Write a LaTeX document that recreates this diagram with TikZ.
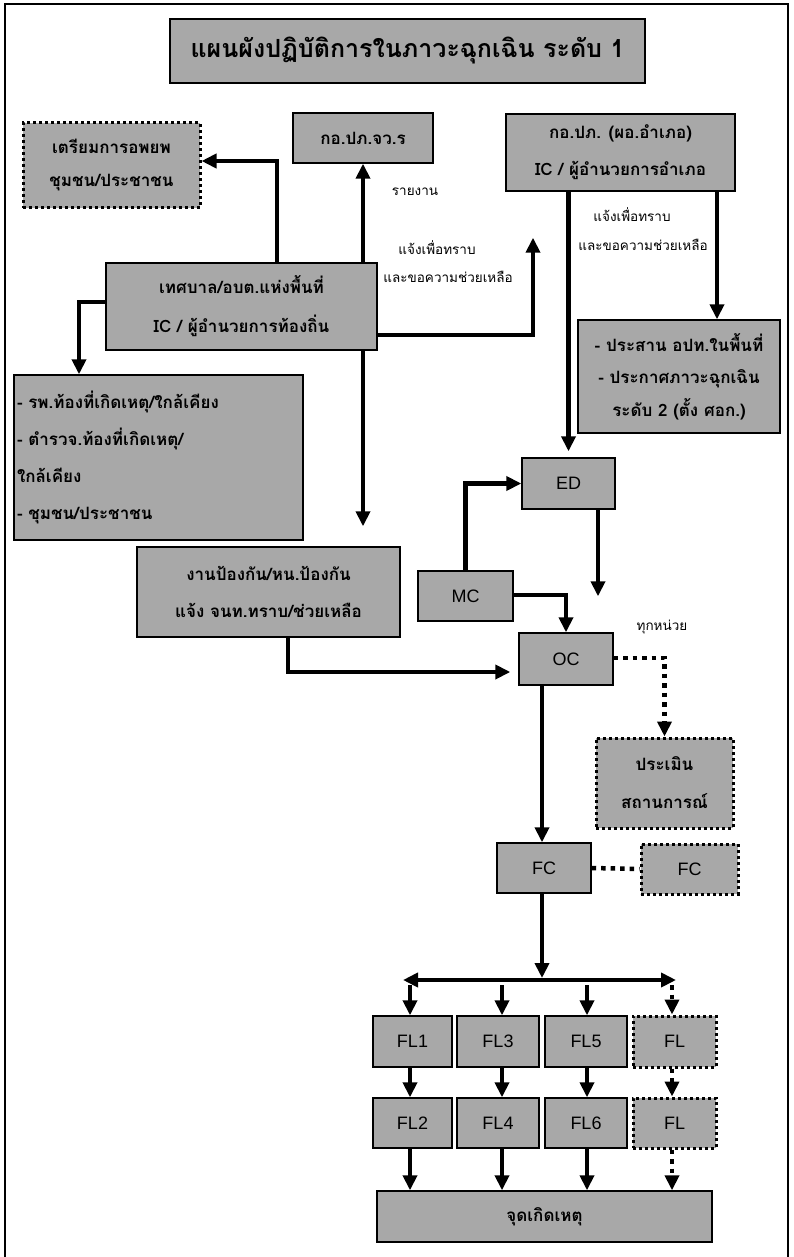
\documentclass[tikz,border=0pt]{standalone}
\usepackage{fontspec}
\setmainfont{Liberation Sans}
\newfontfamily\thai[Script=Thai]{Loma}
\usetikzlibrary{arrows.meta}
\definecolor{boxgray}{RGB}{168,168,168}
\tikzset{
  box/.style={draw=black, line width=1.4pt, fill=boxgray, inner sep=0pt, align=center},
  dotbox/.style={box, line width=3pt, dash pattern=on 3pt off 3pt},
  thtext/.style={font=\thai\bfseries\fontsize{17}{37}\selectfont},
  latin/.style={font=\fontsize{18}{20}\selectfont},
  arr/.style={line width=4.5pt, -{Triangle[width=14pt,length=15pt]}},
  dotarr/.style={line width=4.5pt, dash pattern=on 4.5pt off 5pt, -{Triangle[width=14pt,length=15pt]}},
  dotconn/.style={line width=4.5pt, dash pattern=on 4.5pt off 5pt},
  lbl/.style={font=\thai\fontsize{13.5}{15}\selectfont, inner sep=0pt},
}
\begin{document}
\begin{tikzpicture}[x=1pt,y=-1pt]
\useasboundingbox (0,0) rectangle (794,1257);
\draw[line width=1.5pt] (5,1257) -- (5,4) -- (788,4) -- (788,1257);

% nodes
\node[box, minimum width=475, minimum height=64, font=\thai\bfseries\fontsize{25}{28}\selectfont] (title) at (407.5,51) {แผนผังปฏิบัติการในภาวะฉุกเฉิน ระดับ 1};
\node[dotbox, minimum width=177, minimum height=85, thtext, font=\thai\bfseries\fontsize{17}{33}\selectfont] (evac) at (111.5,165.5) {เตรียมการอพยพ\\ชุมชน/ประชาชน};
\node[box, minimum width=140, minimum height=50, thtext] (prov) at (363,138) {กอ.ปภ.จว.ร};
\node[box, minimum width=229, minimum height=77, thtext] (dist) at (620.5,152.5) {กอ.ปภ. (ผอ.อำเภอ)\\IC / ผู้อำนวยการอำเภอ};
\node[box, minimum width=271, minimum height=87, thtext, font=\thai\bfseries\fontsize{17}{39}\selectfont] (local) at (241.5,306.5) {เทศบาล/อบต.แห่งพื้นที่\\IC / ผู้อำนวยการท้องถิ่น};
\node[box, minimum width=202, minimum height=113, thtext, font=\thai\bfseries\fontsize{17}{32.5}\selectfont] (coord) at (679,376.5) {- ประสาน อปท.ในพื้นที่\\- ประกาศภาวะฉุกเฉิน\\ระดับ 2 (ตั้ง ศอก.)};
\node[box, minimum width=289, minimum height=165, text width=283, align=left, thtext] (left) at (158.5,457.5) {- รพ.ท้องที่เกิดเหตุ/ใกล้เคียง\\- ตำรวจ.ท้องที่เกิดเหตุ/\\ใกล้เคียง\\- ชุมชน/ประชาชน};
\node[box, minimum width=263, minimum height=90, thtext] (prev) at (268.5,592) {งานป้องกัน/หน.ป้องกัน\\แจ้ง จนท.ทราบ/ช่วยเหลือ};
\node[box, minimum width=93, minimum height=51, latin] (ED) at (568.5,483.5) {ED};
\node[box, minimum width=95, minimum height=50, latin] (MC) at (465.5,596) {MC};
\node[box, minimum width=94, minimum height=52, latin] (OC) at (566,659) {OC};
\node[dotbox, minimum width=137, minimum height=90, thtext, font=\thai\bfseries\fontsize{17}{38}\selectfont] (assess) at (664.5,783) {ประเมิน\\สถานการณ์};
\node[box, minimum width=94, minimum height=50, latin] (FC) at (544,868) {FC};
\node[dotbox, minimum width=97, minimum height=50, latin] (FC2) at (689.5,869) {FC};
\node[box, minimum width=79, minimum height=51, latin] (FL1) at (412.5,1041.5) {FL1};
\node[box, minimum width=82, minimum height=51, latin] (FL3) at (498,1041.5) {FL3};
\node[box, minimum width=82, minimum height=51, latin] (FL5) at (586,1041.5) {FL5};
\node[dotbox, minimum width=83, minimum height=51, latin] (FLa) at (674.5,1041.5) {FL};
\node[box, minimum width=79, minimum height=50, latin] (FL2) at (412.5,1123) {FL2};
\node[box, minimum width=82, minimum height=50, latin] (FL4) at (498,1123) {FL4};
\node[box, minimum width=82, minimum height=50, latin] (FL6) at (586,1123) {FL6};
\node[dotbox, minimum width=83, minimum height=50, latin] (FLb) at (674.5,1123) {FL};
\node[box, minimum width=335, minimum height=51, thtext] (scene) at (544.5,1216.5) {จุดเกิดเหตุ};

% labels
\node[lbl] (l1) at (415,192) {รายงาน};
\node[lbl] (l2) at (437,248) {แจ้งเพื่อทราบ};
\node[lbl] (l3) at (448,277) {และขอความช่วยเหลือ};
\node[lbl] (l4) at (632,215) {แจ้งเพื่อทราบ};
\node[lbl] (l5) at (643,245) {และขอความช่วยเหลือ};
\node[lbl] (l6) at (662,627) {ทุกหน่วย};

% connectors
\coordinate (c1) at (277,161);
\draw[arr] (c1 |- local.north) -- (c1) -- (c1 -| evac.east);
\draw[arr] (local.north -| prov.south) -- (prov.south);
\draw[arr, shorten >=20pt] (local.south -| prov.south) -- (prev.north -| prov.south);
\coordinate (c4) at (79,302);
\draw[arr] (c4 -| local.west) -- (c4) -- (c4 |- left.north);
\coordinate (c5) at (533,335);
\draw[arr, shorten >=46pt] (c5 -| local.east) -- (c5) -- (c5 |- dist.south);
\draw[arr, shorten >=6pt] (dist.south -| ED.north) -- (ED.north);
\coordinate (c7) at (717,0);
\draw[arr] (c7 |- dist.south) -- (c7 |- coord.north);
\draw[arr] (MC.north) -- (MC.north |- ED.west) -- (ED.west);
\coordinate (c9) at (598,0);
\draw[arr, shorten >=36pt] (c9 |- ED.south) -- (c9 |- OC.north);
\coordinate (c10) at (0,595);
\draw[arr] (c10 -| MC.east) -- (c10 -| OC.north) -- (OC.north);
\coordinate (c11) at (288,672);
\draw[arr, shorten >=8pt] (c11 |- prev.south) -- (c11) -- (c11 -| OC.west);
\coordinate (c12) at (0,658);
\draw[dotarr] (c12 -| OC.east) -- (c12 -| assess.north) -- (assess.north);
\coordinate (c13) at (542,0);
\draw[arr] (c13 |- OC.south) -- (c13 |- FC.north);
\draw[dotconn] (FC.east) -- (FC2.west);
\coordinate (j) at (542,980);
\draw[arr, shorten >=2pt] (c13 |- FC.south) -- (j);
\coordinate (jl) at (403,980);
\coordinate (jr) at (676,980);
\draw[arr] (j) -- (jl);
\draw[arr] (j) -- (jr);
\coordinate (d1) at (410,985);
\coordinate (d3) at (502,985);
\coordinate (d5) at (587,985);
\coordinate (dd) at (672,985);
\draw[arr] (d1) -- (d1 |- FL1.north);
\draw[arr] (d3) -- (d3 |- FL3.north);
\draw[arr] (d5) -- (d5 |- FL5.north);
\draw[dotarr] (dd) -- (dd |- FLa.north);
\draw[arr] (d1 |- FL1.south) -- (d1 |- FL2.north);
\draw[arr] (d3 |- FL3.south) -- (d3 |- FL4.north);
\draw[arr] (d5 |- FL5.south) -- (d5 |- FL6.north);
\draw[dotarr] (dd |- FLa.south) -- (dd |- FLb.north);
\draw[arr] (d1 |- FL2.south) -- (d1 |- scene.north);
\draw[arr] (d3 |- FL4.south) -- (d3 |- scene.north);
\draw[arr] (d5 |- FL6.south) -- (d5 |- scene.north);
\draw[dotarr] (dd |- FLb.south) -- (dd |- scene.north);
\end{tikzpicture}
\end{document}
